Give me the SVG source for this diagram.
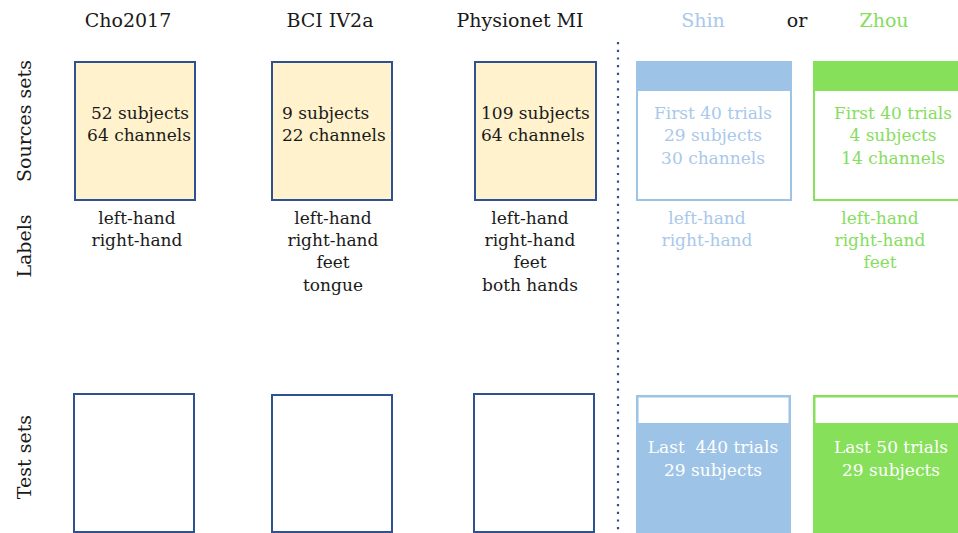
<svg xmlns="http://www.w3.org/2000/svg" width="958" height="533" viewBox="0 0 958 533">
<style>
text{font-family:"DejaVu Serif","Liberation Serif",serif;}
.t{font-size:19px;fill:#1a1a1a;text-anchor:middle;}
.b{font-size:17px;fill:#1a1a1a;}
.m{text-anchor:middle;}
.src{fill:#FFF2CC;stroke:#2F528F;stroke-width:2;}
.tst{fill:#ffffff;stroke:#2F528F;stroke-width:2;}
.blue{fill:#A9C8EA;}
.green{fill:#86DD5E;}
.white{fill:#ffffff;}
</style>
<rect width="958" height="533" fill="#ffffff"/>

<g id="side-labels">
<text class="t" transform="translate(31,121) rotate(-90)">Sources sets</text>
<text class="t" transform="translate(31,246) rotate(-90)">Labels</text>
<text class="t" transform="translate(31,457) rotate(-90)">Test sets</text>
</g>

<g id="titles">
<text class="t" x="128" y="27">Cho2017</text>
<text class="t" x="330" y="27">BCI IV2a</text>
<text class="t" x="520" y="27">Physionet MI</text>
<text class="t" x="703" y="27" style="fill:#A9C8EA">Shin</text>
<text class="t" x="797" y="27">or</text>
<text class="t" x="884" y="27" style="fill:#86DD5E">Zhou</text>
</g>

<g id="cho-source">
<rect class="src" x="75" y="62" width="120" height="138"/>
<text class="b m" x="140" y="119">52 subjects</text>
<text class="b m" x="139" y="141">64 channels</text>
</g>
<g id="bci-source">
<rect class="src" x="272" y="62" width="120" height="138"/>
<text class="b" x="282" y="119">9 subjects</text>
<text class="b" x="282" y="141">22 channels</text>
</g>
<g id="physionet-source">
<rect class="src" x="475" y="62" width="121" height="138"/>
<text class="b" x="481" y="119">109 subjects</text>
<text class="b" x="481" y="141">64 channels</text>
</g>
<g id="shin-source">
<rect x="637" y="62" width="154" height="138" fill="#ffffff" stroke="#9DC3E6" stroke-width="2"/>
<rect x="637" y="62" width="154" height="29" fill="#9DC3E6"/>
<text class="b m blue" x="713" y="119">First 40 trials</text>
<text class="b m blue" x="713" y="141">29 subjects</text>
<text class="b m blue" x="713" y="164">30 channels</text>
</g>
<g id="zhou-source">
<rect x="814" y="62" width="150" height="138" fill="#ffffff" stroke="#86E05A" stroke-width="2"/>
<rect x="814" y="62" width="150" height="29" fill="#86E05A"/>
<text class="b m green" x="893" y="119">First 40 trials</text>
<text class="b m green" x="893" y="141">4 subjects</text>
<text class="b m green" x="893" y="164">14 channels</text>
</g>

<g id="cho-labels">
<text class="b m" x="137" y="224">left-hand</text>
<text class="b m" x="137" y="246">right-hand</text>
</g>
<g id="bci-labels">
<text class="b m" x="333" y="224">left-hand</text>
<text class="b m" x="333" y="246">right-hand</text>
<text class="b m" x="333" y="268">feet</text>
<text class="b m" x="333" y="291">tongue</text>
</g>
<g id="physionet-labels">
<text class="b m" x="530" y="224">left-hand</text>
<text class="b m" x="530" y="246">right-hand</text>
<text class="b m" x="530" y="268">feet</text>
<text class="b m" x="530" y="291">both hands</text>
</g>
<g id="shin-labels">
<text class="b m blue" x="707" y="224">left-hand</text>
<text class="b m blue" x="707" y="246">right-hand</text>
</g>
<g id="zhou-labels">
<text class="b m green" x="880" y="224">left-hand</text>
<text class="b m green" x="880" y="246">right-hand</text>
<text class="b m green" x="880" y="268">feet</text>
</g>

<g id="cho-test"><rect class="tst" x="74" y="394" width="120" height="138"/></g>
<g id="bci-test"><rect class="tst" x="272" y="395" width="120" height="137"/></g>
<g id="physionet-test"><rect class="tst" x="474" y="394" width="120" height="138"/></g>
<g id="shin-test">
<rect x="637" y="396" width="153" height="145" fill="#9DC3E6" stroke="#9DC3E6" stroke-width="2"/>
<rect x="638.5" y="397.5" width="150" height="25.5" fill="#ffffff"/>
<text class="b m white" x="713" y="453" xml:space="preserve">Last  440 trials</text>
<text class="b m white" x="713" y="476">29 subjects</text>
</g>
<g id="zhou-test">
<rect x="814" y="396" width="150" height="145" fill="#86E05A" stroke="#86E05A" stroke-width="2"/>
<rect x="815.5" y="397.5" width="150" height="25.5" fill="#ffffff"/>
<text class="b m white" x="891" y="453">Last 50 trials</text>
<text class="b m white" x="891" y="476">29 subjects</text>
</g>

<g id="connectors">
<line x1="618" y1="42" x2="618" y2="533" stroke="#2F528F" stroke-width="2.2" stroke-dasharray="2.2 5.5"/>
</g>
</svg>
